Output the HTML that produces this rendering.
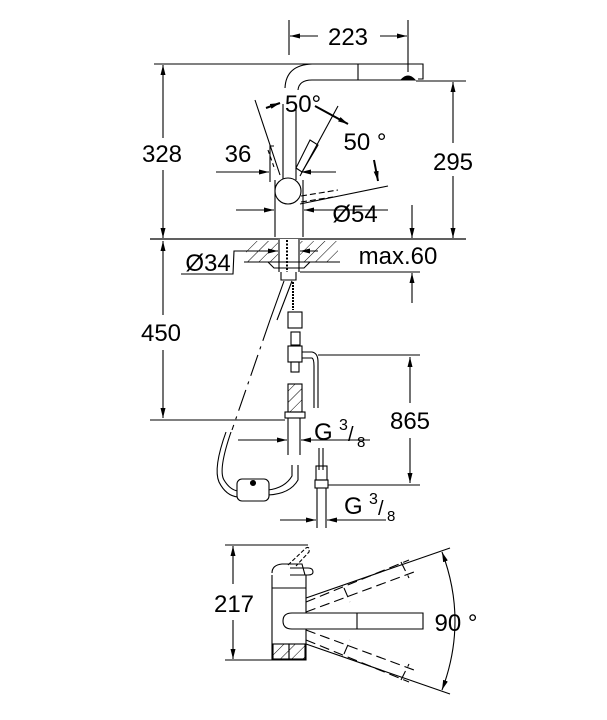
<!DOCTYPE html>
<html><head><style>
html,body{margin:0;padding:0;background:#fff}
svg{display:block}
text{font-family:"Liberation Sans",Arial,sans-serif;fill:#000}
</style></head><body>
<svg width="607" height="720" viewBox="0 0 607 720" xmlns="http://www.w3.org/2000/svg">
<defs>
<marker id="a" viewBox="0 0 10 10" refX="10" refY="5" markerWidth="10" markerHeight="10" orient="auto-start-reverse" markerUnits="userSpaceOnUse"><path d="M0,2.5 L10,5 L0,7.5z" fill="#000"/></marker>
<pattern id="h" width="8" height="8" patternUnits="userSpaceOnUse" patternTransform="rotate(45)"><line x1="0" y1="0" x2="0" y2="8" stroke="#000" stroke-width="1"/></pattern>
</defs>
<g stroke="#000" stroke-width="1.1" fill="none">
<line x1="289" y1="20" x2="289" y2="55"/>
<line x1="408" y1="20" x2="408" y2="72"/>
<line x1="290" y1="36" x2="318" y2="36" marker-start="url(#a)"/>
<line x1="380" y1="36" x2="407" y2="36" marker-end="url(#a)"/>
<line x1="154" y1="64" x2="420" y2="64"/>
<path d="M285,88 Q286,65 312,64 L423,64 L423,79 L418,79"/>
<path d="M298,90 Q299,80 312,80 L402,80"/>
<line x1="358" y1="64" x2="358" y2="80"/>
<path d="M401,80 Q408,72 415,80 Z" fill="#000"/>
<line x1="416" y1="81" x2="466" y2="81"/>
<line x1="163" y1="65" x2="163" y2="138" marker-start="url(#a)"/>
<line x1="163" y1="170" x2="163" y2="238" marker-end="url(#a)"/>
<line x1="453" y1="82" x2="453" y2="143" marker-start="url(#a)"/>
<line x1="453" y1="176" x2="453" y2="238" marker-end="url(#a)"/>
<line x1="283" y1="104" x2="283" y2="180"/>
<line x1="296" y1="104" x2="296" y2="180"/>
<line x1="275" y1="180" x2="275" y2="237"/>
<line x1="303" y1="180" x2="303" y2="237"/>
<circle cx="288" cy="191" r="13" fill="#fff"/>
<line x1="255" y1="100" x2="280" y2="175"/>
<path d="M270,146 L276,146 M268,150 L275,170" stroke-dasharray="4,3"/>
<line x1="338" y1="106" x2="300" y2="176"/>
<path d="M310,140 L318,145 L302,172 L296,168 Z"/>
<path d="M301,196 L338,190 M301,202 L333,197" stroke-dasharray="6,3"/>
<line x1="300" y1="204" x2="388" y2="186"/>
<line x1="266" y1="108" x2="280" y2="103" marker-end="url(#a)" stroke-width="2"/>
<line x1="315" y1="106" x2="348" y2="124" marker-end="url(#a)" stroke-width="2"/>
<line x1="374" y1="160" x2="378" y2="181" marker-end="url(#a)" stroke-width="2"/>
<line x1="216" y1="172" x2="269" y2="172" marker-end="url(#a)"/>
<line x1="270" y1="145" x2="270" y2="182"/>
<line x1="336" y1="172" x2="301" y2="172" marker-end="url(#a)"/>
<line x1="236" y1="210" x2="274" y2="210" marker-end="url(#a)"/>
<line x1="388" y1="210" x2="304" y2="210" marker-end="url(#a)"/>
<line x1="150" y1="239" x2="466" y2="239" stroke-width="1.3"/>
<rect x="246" y="241" width="92" height="21" fill="url(#h)" stroke="none"/>
<rect x="278" y="239" width="22" height="30" fill="#fff" stroke="none"/>
<line x1="244" y1="262" x2="340" y2="262"/>
<line x1="279" y1="239" x2="279" y2="272"/>
<line x1="299" y1="239" x2="299" y2="272"/>
<line x1="287" y1="240" x2="287" y2="272" stroke-dasharray="2,1.5" stroke-width="2"/>
<path d="M268,262 L274,268 L304,268 L310,262"/>
<line x1="260" y1="251" x2="278" y2="251" marker-end="url(#a)"/>
<line x1="318" y1="251" x2="300" y2="251" marker-end="url(#a)"/>
<path d="M181,274 L233,274 L234,251 L264,251"/>
<line x1="300" y1="272" x2="420" y2="272"/>
<line x1="412" y1="205" x2="412" y2="238" marker-end="url(#a)"/>
<line x1="412" y1="303" x2="412" y2="273" marker-end="url(#a)"/>
<path d="M281,272 L281,280 L296,280 L296,272"/>
<path d="M284,281 L270,320 M292,281 L277,320"/>
<line x1="293" y1="282" x2="293" y2="310" stroke-dasharray="2,1" stroke-width="2"/>
<rect x="288" y="312" width="14" height="16" fill="#fff"/>
<rect x="291" y="332" width="9" height="13" fill="#fff"/>
<rect x="288" y="346" width="14" height="16" fill="#fff"/>
<rect x="291" y="362" width="8" height="10"/>
<path d="M302,352 L312,352 Q318,353 318,362 L318,408 M302,358 L312,358 Q314,359 314,366 L314,408"/>
<line x1="318" y1="355" x2="420" y2="355"/>
<rect x="288" y="384" width="14" height="28" fill="url(#h)"/>
<rect x="285" y="412" width="20" height="6"/>
<line x1="288" y1="418" x2="288" y2="455"/>
<line x1="300" y1="418" x2="300" y2="455"/>
<line x1="150" y1="420" x2="285" y2="420"/>
<line x1="163" y1="241" x2="163" y2="315" marker-start="url(#a)"/>
<line x1="163" y1="350" x2="163" y2="418" marker-end="url(#a)"/>
<line x1="270" y1="320" x2="232" y2="430" stroke-dasharray="22,6,3,6"/>
<path d="M231,432 Q218,470 224,480 Q230,490 238,491 M226,432 Q213,468 219,482 Q226,496 238,497"/>
<path d="M268,490 Q285,488 292,476 L292,465 M268,495 Q290,494 298,480 L298,465"/>
<rect x="237" y="479" width="32" height="22" rx="5" fill="#fff"/>
<circle cx="253" cy="483" r="2.5" fill="#000"/>
<line x1="238" y1="440" x2="287" y2="440" marker-end="url(#a)"/>
<line x1="370" y1="440" x2="301" y2="440" marker-end="url(#a)"/>
<line x1="319" y1="448" x2="319" y2="470"/>
<line x1="323" y1="448" x2="323" y2="470"/>
<rect x="316" y="466" width="11" height="14"/>
<rect x="315" y="480" width="13" height="8"/>
<line x1="317" y1="488" x2="317" y2="528"/>
<line x1="326" y1="488" x2="326" y2="528"/>
<line x1="328" y1="485" x2="420" y2="485"/>
<line x1="410" y1="357" x2="410" y2="403" marker-start="url(#a)"/>
<line x1="410" y1="438" x2="410" y2="483" marker-end="url(#a)"/>
<line x1="280" y1="520" x2="316" y2="520" marker-end="url(#a)"/>
<line x1="386" y1="520" x2="327" y2="520" marker-end="url(#a)"/>
<line x1="225" y1="545" x2="308" y2="545"/>
<line x1="225" y1="660" x2="278" y2="660"/>
<line x1="233" y1="546" x2="233" y2="584" marker-start="url(#a)"/>
<line x1="233" y1="620" x2="233" y2="659" marker-end="url(#a)"/>
<path d="M272,575 L272,660 L306,660 L306,575"/>
<line x1="272" y1="588" x2="306" y2="588"/>
<path d="M272,573 Q272,565 282,564 L302,564 L305,575"/>
<path d="M290,568 L308,568 Q313,568 313,572 Q313,575 308,575 L290,575"/>
<path d="M288,565 L306,548 Q310,546 309,552 L296,566" stroke-dasharray="4,2"/>
<rect x="273" y="644" width="16" height="15" fill="url(#h)"/>
<rect x="289" y="644" width="16" height="15" fill="url(#h)"/>
<path d="M423,613 L292,613 Q283,613 283,621 Q283,629 292,629 L423,629 Z" fill="#fff"/>
<line x1="357" y1="613" x2="357" y2="629"/>
<path d="M306,602 L409,560 M306,612 L414,572 M401,562 L409,578 M344,588 L350,602" stroke-dasharray="10,5"/>
<path d="M306,640 L409,682 M306,630 L414,670 M401,680 L409,664 M344,654 L350,640" stroke-dasharray="10,5"/>
<line x1="306" y1="598" x2="450" y2="548"/>
<line x1="306" y1="644" x2="450" y2="694"/>
<path d="M442,552 Q468,621 442,690" marker-start="url(#a)" marker-end="url(#a)"/>
</g>
<g font-size="24">
<text x="348" y="45" text-anchor="middle">223</text>
<text x="162" y="162" text-anchor="middle">328</text>
<text x="453" y="170" text-anchor="middle">295</text>
<text x="303" y="112" text-anchor="middle">50°</text>
<text x="365" y="150" text-anchor="middle">50 °</text>
<text x="238" y="162" text-anchor="middle">36</text>
<text x="355" y="222" text-anchor="middle">Ø54</text>
<text x="208" y="271" text-anchor="middle">Ø34</text>
<text x="398" y="264" text-anchor="middle">max.60</text>
<text x="161" y="341" text-anchor="middle">450</text>
<text x="410" y="429" text-anchor="middle">865</text>
<text x="314" y="440">G</text><text x="339" y="430" font-size="16">3</text><text x="348" y="441" font-size="20">/</text><text x="357" y="447" font-size="15">8</text>
<text x="344" y="514">G</text><text x="369" y="504" font-size="16">3</text><text x="378" y="515" font-size="20">/</text><text x="387" y="521" font-size="15">8</text>
<text x="234" y="612" text-anchor="middle">217</text>
<text x="456" y="631" text-anchor="middle">90 °</text>
</g>
</svg>
</body></html>
